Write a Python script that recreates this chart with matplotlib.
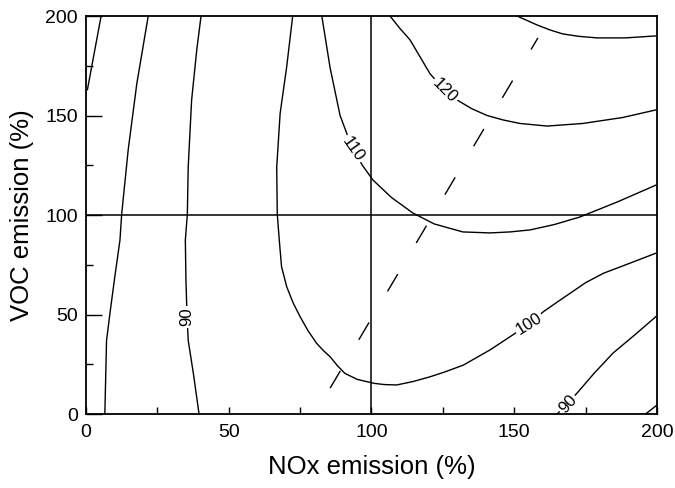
import matplotlib
matplotlib.use("Agg")
import matplotlib.pyplot as plt

plt.rcParams['font.family'] = ['Liberation Sans', 'DejaVu Sans']

# ---- data (NOx %, VOC %) ----
c80a_x = [5.3, 0.5]
c80a_y = [200, 163]

c80b_x = [21.8, 17.8, 14.8, 12.5, 11.9, 10.0, 8.4, 7.2, 6.6]
c80b_y = [200, 166, 133, 100.5, 87.4, 68, 50.7, 37, 0]

c90_x = [40.3, 38.8, 37.0, 35.8, 35.5, 34.8, 35.0, 35.4, 35.8, 37.6, 39.6]
c90_y = [200, 183, 157.8, 124, 100.5, 87.4, 68, 48.7, 37, 20.5, 0]

c100_x = [72.4, 70.3, 68.0, 66.8, 67.0, 67.7, 68.5, 70.3, 72.5, 75.0, 77.8, 80.8,
          83.2, 85.5, 88.0, 90.7, 95.0, 101.0, 104.5, 108.8, 114.5, 120.5, 126.0,
          132.2, 141.5, 148.5, 155.2, 160.2, 165.0, 169.5, 175.0, 181.2, 190.0, 199.6]
c100_y = [200, 174.5, 151, 124, 100.5, 87.4, 74, 64, 56, 48.9, 41.8, 35.5,
          31.8, 28.8, 24.4, 20.4, 17.4, 15.4, 14.8, 14.6, 16.3, 18.7, 21.3,
          24.6, 32.2, 38.8, 45.2, 51.4, 56.2, 60.6, 66.0, 70.7, 75.5, 80.8]

c110_x = [82.6, 85.5, 89.0, 93.3, 96.8, 100.5, 107.0, 114.5, 122.0, 132.0, 141.5,
          148.5, 155.5, 164.0, 173.0, 186.0, 199.6]
c110_y = [200, 174, 150, 133.5, 125.0, 117.6, 108.8, 101, 95.5, 91.5, 91,
          91.5, 92.5, 95.2, 99, 106.5, 115]

c120_x = [106.5, 109.8, 113.5, 117.0, 120.5, 125.7, 130.0, 135.0, 140.5, 146.0,
          152.0, 161.5, 174.0, 188.0, 199.6]
c120_y = [200, 194.0, 188, 179.5, 171, 162.5, 157.8, 153.5, 150, 147.8,
          146, 144.7, 146, 149, 152.8]

c130_x = [151.0, 158.0, 162.5, 167.0, 172.5, 179.0, 189.0, 199.6]
c130_y = [200, 195.5, 193.0, 191, 189.8, 189, 189, 190]

c90r_x = [165.0, 168.8, 172.3, 178.0, 184.6, 192.0, 199.6]
c90r_y = [0, 5.5, 11, 20.5, 30.6, 39.5, 48.9]

c80r_x = [196.0, 200.0]
c80r_y = [0, 4.5]

ridge_x = [85.5, 158.3]
ridge_y = [13, 189]

# inline labels: text, x, y, rotation
lab_text = ["90", "110", "120", "100", "90"]
lab_x = [35.4, 93.5, 125.7, 155.2, 168.8]
lab_y = [48.7, 133.0, 162.5, 45.2, 5.0]
lab_rot = [90, -55, -45, 32, 48]

x_ticks_major = [0, 50, 100, 150, 200]
y_ticks_major = [0, 50, 100, 150, 200]
minor_ticks = [25, 75, 125, 175]

fig = plt.figure(figsize=(6.75, 4.88), dpi=100)
ax = fig.add_axes([0.1274, 0.1516, 0.8459, 0.8156])

lw = 1.0
for xs, ys in [(c80a_x, c80a_y), (c80b_x, c80b_y), (c90_x, c90_y),
               (c100_x, c100_y), (c110_x, c110_y), (c120_x, c120_y),
               (c130_x, c130_y), (c90r_x, c90r_y), (c80r_x, c80r_y)]:
    ax.plot(xs, ys, color='black', lw=lw, zorder=2, clip_on=True,
            solid_joinstyle='round')

ax.plot(ridge_x, ridge_y, color='black', lw=1.0, zorder=2,
        linestyle=(0, (14.5, 26)))

ax.axhline(100, color='black', lw=1.1, zorder=2)
ax.axvline(100, color='black', lw=1.1, zorder=2)

for t, x, y, r in zip(lab_text, lab_x, lab_y, lab_rot):
    ax.text(x, y, t, rotation=r, rotation_mode='anchor', ha='center', va='center',
            fontsize=12, zorder=2.2,
            bbox=dict(boxstyle='square,pad=0.1', fc='white', ec='none'))

ax.set_xlim(0, 200)
ax.set_ylim(0, 200)
ax.set_xticks(x_ticks_major)
ax.set_yticks(y_ticks_major)
ax.set_xticks(minor_ticks, minor=True)
ax.set_yticks(minor_ticks, minor=True)
ax.tick_params(axis='both', which='both', direction='in', labelsize=14, width=1.0)
ax.tick_params(axis='y', which='major', length=11.5, pad=6)
ax.tick_params(axis='y', which='minor', length=5)
ax.tick_params(axis='x', which='major', length=5, pad=7)
ax.tick_params(axis='x', which='minor', length=5)
for s in ax.spines.values():
    s.set_linewidth(1.3)
    s.set_zorder(2.5)

ax.set_xlabel("NOx emission (%)", fontsize=18.5, labelpad=10)
ax.set_ylabel("VOC emission (%)", fontsize=18.5, labelpad=8)

fig.savefig("out.png", dpi=100, facecolor='white')
